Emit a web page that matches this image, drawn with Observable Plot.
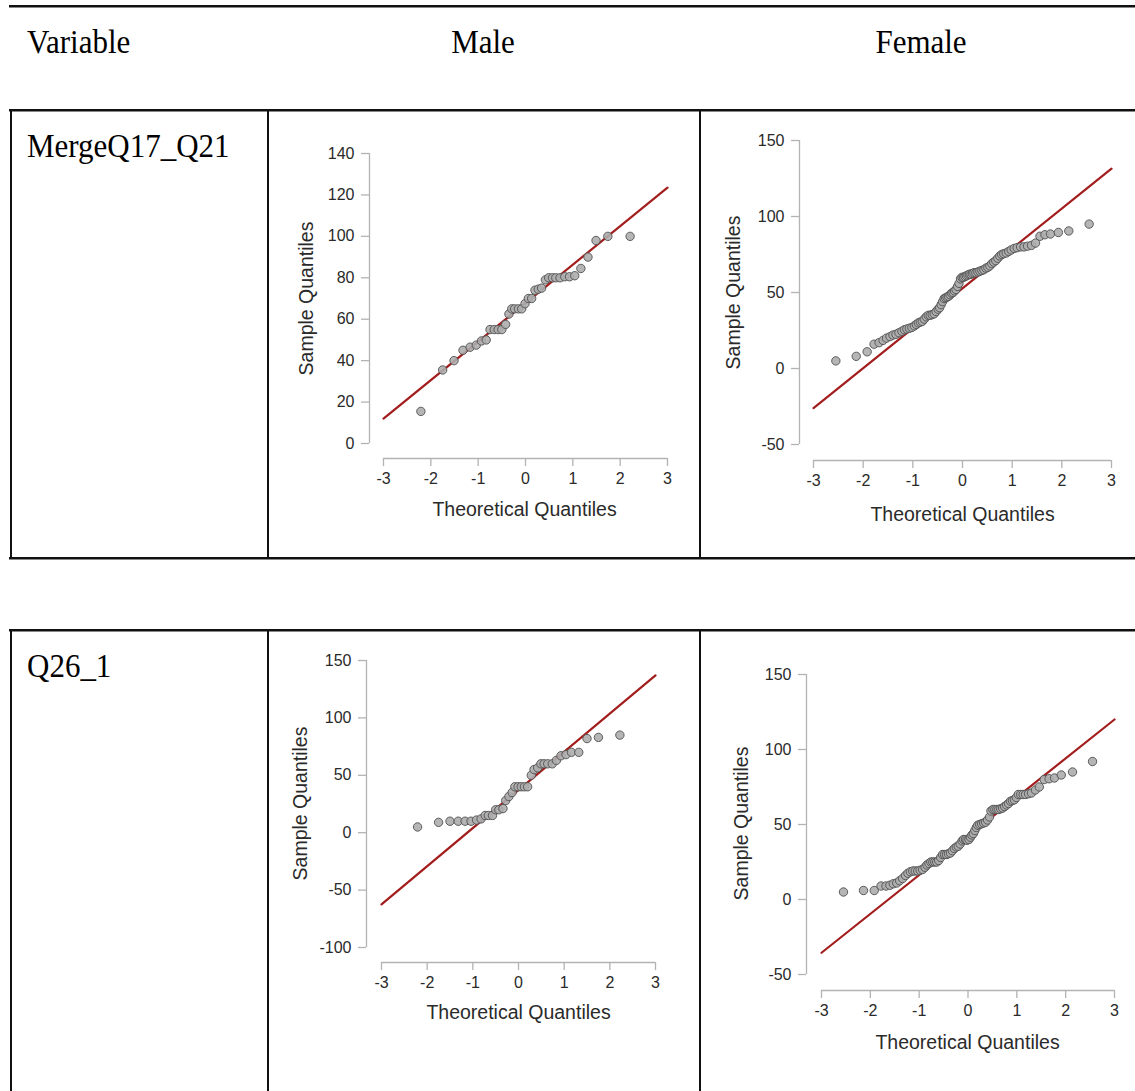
<!DOCTYPE html>
<html><head><meta charset="utf-8">
<script src="https://cdn.jsdelivr.net/npm/d3@7"></script>
<script src="https://cdn.jsdelivr.net/npm/@observablehq/plot@0.6"></script>
<style>
html,body{margin:0;padding:0;background:#fff;}
#page{position:relative;width:1135px;height:1091px;overflow:hidden;background:#fff;}
#page svg{position:absolute;}
</style></head><body><div id="page"></div>
<script>
// ---------- data ----------
const headers = ["Variable", "Male", "Female"];
const variables = ["MergeQ17_Q21", "Q26_1"];
const xTitle = "Theoretical Quantiles";
const yTitle = "Sample Quantiles";
const xTicks = [-3, -2, -1, 0, 1, 2, 3];
const yTicksMaleQ17 = [0, 20, 40, 60, 80, 100, 120, 140];
const yTicksFemaleQ17 = [-50, 0, 50, 100, 150];
const yTicksMaleQ26 = [-100, -50, 0, 50, 100, 150];
const yTicksFemaleQ26 = [-50, 0, 50, 100, 150];

const maleQ17Theo = [-2.21,-1.75,-1.51,-1.32,-1.17,-1.04,-0.93,-0.83,-0.75,-0.66,-0.58,-0.50,-0.42,-0.35,-0.29,-0.23,-0.15,-0.08,-0.01,0.06,0.13,0.20,0.27,0.34,0.42,0.49,0.57,0.64,0.73,0.83,0.93,1.04,1.17,1.32,1.49,1.74,2.21];
const maleQ17Sample = [15.5,35.5,40,45,46.5,47.5,49.5,50,55,55,55,55,57.5,62.5,65,65,65,65,67.5,70,70,74,74.5,75,79,80,80,80,80,80.5,80.5,81,84.5,90,98,100,100];
const maleQ17Line = [12, 123.5];

const femaleQ17Theo = [-2.55,-2.14,-1.92,-1.78,-1.68,-1.60,-1.53,-1.46,-1.40,-1.34,-1.28,-1.22,-1.17,-1.12,-1.07,-1.02,-0.97,-0.93,-0.89,-0.85,-0.81,-0.77,-0.73,-0.69,-0.65,-0.61,-0.57,-0.53,-0.49,-0.46,-0.43,-0.40,-0.37,-0.34,-0.31,-0.28,-0.25,-0.22,-0.19,-0.16,-0.13,-0.10,-0.07,-0.04,-0.01,0.02,0.05,0.08,0.11,0.14,0.17,0.20,0.23,0.27,0.31,0.35,0.39,0.43,0.47,0.51,0.55,0.59,0.63,0.67,0.71,0.75,0.79,0.83,0.88,0.93,0.98,1.04,1.10,1.17,1.24,1.31,1.39,1.47,1.56,1.66,1.77,1.93,2.14,2.55];
const femaleQ17Sample = [5,8,11,16,17,18.5,20,21,22,22.5,23.5,24.5,25.5,26,26.5,27,28,29,30,30.5,31,32.5,34,35,35,35.5,36,37.5,39,40,42,44,46,46.5,47,47.5,48.5,49.5,50,51,52,54,56,59,60,60,60.5,61,61.5,62,62,62.5,63,63,63.5,64,64.5,65,66,66.5,67.5,69,70,71,72.5,74,75,75.5,76,77,78,79,79.5,80,80,80.5,81,82.5,87,88,88.5,89.5,90.5,95];
const femaleQ17Line = [-26, 131.5];

const maleQ26Theo = [-2.21,-1.75,-1.50,-1.32,-1.17,-1.04,-0.92,-0.82,-0.73,-0.66,-0.57,-0.50,-0.43,-0.34,-0.28,-0.21,-0.14,-0.08,-0.01,0.06,0.13,0.20,0.28,0.34,0.42,0.49,0.56,0.64,0.74,0.83,0.93,1.04,1.16,1.32,1.50,1.75,2.22];
const maleQ26Sample = [5,9,10,10,10,10,11,12,15,15,15,20,20,21,28,31.5,35,40,40,40,40,40,50,55,56.5,60,60,60,60,63,67,68,70,70,82,83,85];
const maleQ26Line = [-62.5, 137];

const femaleQ26Theo = [-2.55,-2.14,-1.92,-1.78,-1.68,-1.60,-1.53,-1.46,-1.40,-1.34,-1.28,-1.23,-1.18,-1.13,-1.08,-1.03,-0.98,-0.93,-0.88,-0.84,-0.80,-0.76,-0.72,-0.68,-0.64,-0.60,-0.56,-0.52,-0.48,-0.44,-0.40,-0.36,-0.32,-0.28,-0.24,-0.20,-0.16,-0.12,-0.09,-0.05,-0.02,0.02,0.05,0.08,0.11,0.14,0.17,0.20,0.24,0.28,0.32,0.36,0.40,0.44,0.47,0.51,0.55,0.59,0.63,0.67,0.71,0.75,0.79,0.83,0.87,0.91,0.95,0.99,1.03,1.08,1.13,1.18,1.24,1.30,1.38,1.46,1.56,1.66,1.77,1.91,2.14,2.55];
const femaleQ26Sample = [5,6,6,9,9,9.5,10.5,11,12.5,14,16,17.5,18.5,19,19,19,19.5,20,21.5,23,24,25,25,25,25,26,28,30,30,30,30.5,31,32.5,34,35,35.5,37,39,40,40,39.5,40,41.5,43,44,46,48,49.5,50,50.5,51,51.5,53,55,59,60,60,60,60,60.5,61,62,63,64,65.5,66,66.5,68,70,70,70,70,70.5,71,73,75,80,80.5,81,83,85,92];
const femaleQ26Line = [-35.5, 120];

// ---------- layout (page pixels) ----------
const page = document.getElementById("page");
const W = 1135, H = 1091;

const table = d3.create("svg").attr("width", W).attr("height", H).style("left", "0px").style("top", "0px");
const rules = [
  [9, 5, W - 9, 2.5], [9, 109, W - 9, 2.5], [9, 557, W - 9, 2.5], [9, 629, W - 9, 2.5],
  [10, 109, 2, 450], [267, 109, 2, 450], [699, 109, 2, 450],
  [10, 629, 2, H - 629], [267, 629, 2, H - 629], [699, 629, 2, H - 629]
];
table.selectAll("rect").data(rules).join("rect")
  .attr("x", d => d[0]).attr("y", d => d[1]).attr("width", d => d[2]).attr("height", d => d[3]).attr("fill", "#111");
const textPos = [
  {t: headers[0], x: 27, y: 53, a: "start"},
  {t: headers[1], x: 483, y: 53, a: "middle"},
  {t: headers[2], x: 921, y: 53, a: "middle"},
  {t: variables[0], x: 27, y: 157, a: "start"},
  {t: variables[1], x: 27, y: 677, a: "start"}
];
table.selectAll("text").data(textPos).join("text")
  .attr("transform", d => `translate(${d.x},${d.y}) scale(1,1.12)`)
  .attr("text-anchor", d => d.a)
  .attr("font-family", "'Liberation Serif','Times New Roman',serif")
  .attr("font-size", 31).attr("fill", "#000")
  .text(d => d.t);
page.appendChild(table.node());

const axisColor = "#b3b3b3";
const textColor = "#2a2a2a";

function qq(cfg) {
  const L = cfg.layout;
  const marginLeft = L.axisX - L.left;
  const insetLeft = L.xr[0] - L.axisX;
  const marginRight = L.left + L.width - L.xr[1];
  const marginTop = L.yr[1] - L.top;
  const insetBottom = L.axisY - L.yr[0];
  const marginBottom = L.top + L.height - L.axisY;
  const frameMidX = (marginLeft + L.width - marginRight) / 2;
  const frameMidY = (marginTop + L.height - marginBottom) / 2;
  const pts = cfg.theo.map((t, i) => ({t, s: cfg.sample[i]}));
  const lineData = [{t: xTicks[0], s: cfg.line[0]}, {t: xTicks[xTicks.length - 1], s: cfg.line[1]}];
  const yT = cfg.yTicks;
  const svg = Plot.plot({
    width: L.width, height: L.height,
    marginLeft, marginRight, marginTop, marginBottom,
    style: {fontFamily: "'Liberation Sans', Arial, sans-serif", fontSize: "16px", color: textColor, background: "transparent", overflow: "visible"},
    x: {domain: [xTicks[0], xTicks[xTicks.length - 1]], insetLeft, insetRight: 0},
    y: {domain: [yT[0], yT[yT.length - 1]], insetBottom, insetTop: 0},
    marks: [
      Plot.ruleX([xTicks[0]], {y1: yT[0], y2: yT[yT.length - 1], dx: -insetLeft, stroke: axisColor, strokeWidth: 1.3}),
      Plot.ruleY([yT[0]], {x1: xTicks[0], x2: xTicks[xTicks.length - 1], dy: insetBottom, stroke: axisColor, strokeWidth: 1.3}),
      Plot.axisX(xTicks, {tickSize: 8, tickPadding: 6, tickFormat: d => `${d}`, stroke: axisColor, strokeWidth: 1.3, fill: textColor, fontSize: 16, label: null}),
      Plot.axisY(yT, {tickSize: 8, tickPadding: 7, tickFormat: d => `${d}`, stroke: axisColor, strokeWidth: 1.3, fill: textColor, fontSize: 16, label: null}),
      Plot.line(lineData, {x: "t", y: "s", stroke: "#a31d1d", strokeWidth: 2.2}),
      Plot.dot(pts, {x: "t", y: "s", r: 4.2, fill: "#adadad", fillOpacity: 0.9, stroke: "#4f4f4f", strokeWidth: 0.9}),
      Plot.text([xTitle], {frameAnchor: "bottom", textAnchor: "middle", dx: (L.xTitleX - L.left) - frameMidX, dy: (L.xTitleY - L.top) - (L.height - marginBottom), fontSize: 19.5, fill: textColor, lineAnchor: "middle"}),
      Plot.text([yTitle], {frameAnchor: "left", textAnchor: "middle", dx: (L.yTitleX - L.left) - marginLeft, dy: (L.yTitleY - L.top) - frameMidY, rotate: -90, fontSize: 19.5, fill: textColor, lineAnchor: "middle"})
    ]
  });
  svg.style.left = L.left + "px";
  svg.style.top = L.top + "px";
  svg.style.position = "absolute";
  page.appendChild(svg);
}

qq({theo: maleQ17Theo, sample: maleQ17Sample, line: maleQ17Line, yTicks: yTicksMaleQ17,
    layout: {left: 270, top: 113, width: 427, height: 440, xr: [383, 667], yr: [443, 153], axisX: 369, axisY: 458, yTitleX: 306, yTitleY: 298, xTitleX: 524, xTitleY: 509}});
qq({theo: femaleQ17Theo, sample: femaleQ17Sample, line: femaleQ17Line, yTicks: yTicksFemaleQ17,
    layout: {left: 702, top: 113, width: 433, height: 440, xr: [813, 1111], yr: [444, 140], axisX: 799, axisY: 460, yTitleX: 733, yTitleY: 292, xTitleX: 962, xTitleY: 514}});
qq({theo: maleQ26Theo, sample: maleQ26Sample, line: maleQ26Line, yTicks: yTicksMaleQ26,
    layout: {left: 270, top: 633, width: 427, height: 458, xr: [381, 655], yr: [947, 660], axisX: 366, axisY: 962, yTitleX: 300, yTitleY: 803, xTitleX: 518, xTitleY: 1012}});
qq({theo: femaleQ26Theo, sample: femaleQ26Sample, line: femaleQ26Line, yTicks: yTicksFemaleQ26,
    layout: {left: 702, top: 633, width: 433, height: 458, xr: [821, 1114], yr: [974, 674], axisX: 806, axisY: 990, yTitleX: 741, yTitleY: 823, xTitleX: 967, xTitleY: 1042}});
</script>
</body></html>
